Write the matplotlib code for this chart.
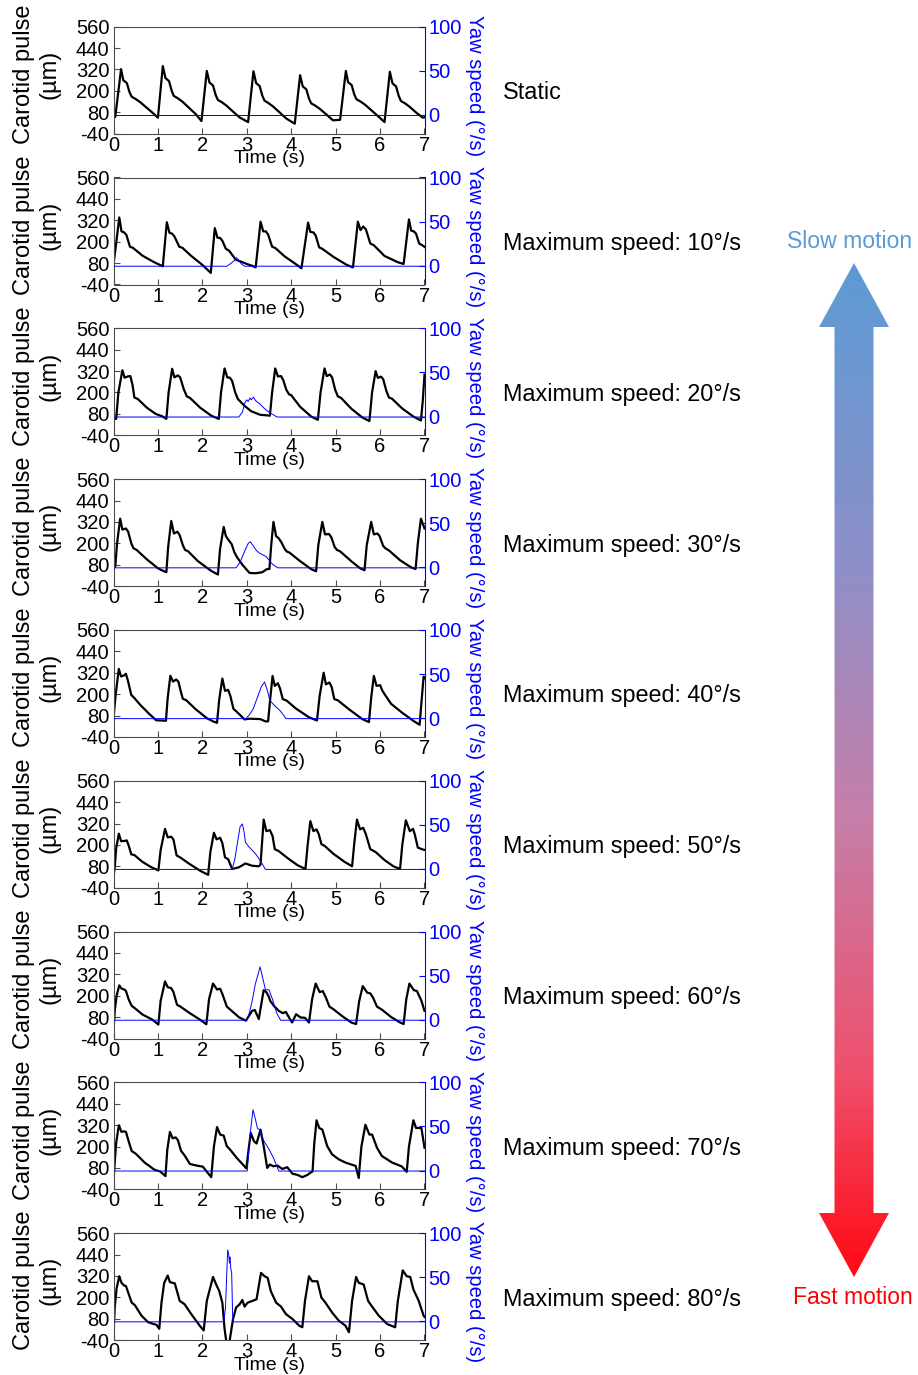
import matplotlib.pyplot as plt
import numpy as np
from matplotlib.colors import LinearSegmentedColormap
from matplotlib.patches import Polygon

plt.rcParams['font.family'] = ['Liberation Sans', 'DejaVu Sans']
plt.rcParams['axes.unicode_minus'] = False

W, H = 918, 1375

panel_labels = ["Static", "Maximum speed: 10°/s", "Maximum speed: 20°/s",
                "Maximum speed: 30°/s", "Maximum speed: 40°/s", "Maximum speed: 50°/s",
                "Maximum speed: 60°/s", "Maximum speed: 70°/s", "Maximum speed: 80°/s"]
time_ticks = [0, 1, 2, 3, 4, 5, 6, 7]
pulse_ticks = [-40, 80, 200, 320, 440, 560]
yaw_ticks = [0, 50, 100]

# carotid pulse (um), (time s, value)
pulse_static = [
    (0.0, 56), (0.04, 54), (0.17, 322), (0.22, 260), (0.30, 244), (0.36, 193), (0.41, 167), (0.49, 156), (0.60, 137), (0.75, 105), (0.90, 73),
    (1.0, 50), (1.11, 339), (1.17, 272), (1.25, 255), (1.31, 200), (1.36, 171), (1.44, 160), (1.55, 140), (1.70, 105), (1.85, 70),
    (1.98, 31), (2.10, 312), (2.16, 247), (2.24, 230), (2.30, 177), (2.35, 149), (2.43, 138), (2.54, 118), (2.69, 84), (2.84, 51),
    (3.03, 25), (3.15, 310), (3.21, 244), (3.29, 227), (3.35, 173), (3.40, 145), (3.48, 133), (3.59, 113), (3.74, 79), (3.89, 45),
    (4.08, 16), (4.20, 288), (4.26, 225), (4.34, 209), (4.40, 157), (4.45, 130), (4.53, 119), (4.64, 100), (4.79, 68), (4.94, 35),
    (5.10, 38), (5.23, 312), (5.28, 249), (5.36, 233), (5.42, 180), (5.47, 153), (5.55, 142), (5.66, 123), (5.81, 90), (5.96, 57),
    (6.10, 25), (6.22, 307), (6.28, 242), (6.36, 225), (6.42, 172), (6.47, 143), (6.55, 132), (6.66, 112), (6.81, 79), (6.96, 50), (7.0, 52)]
pulse_10 = [
    (0.0, 75), (0.04, 150), (0.13, 336), (0.18, 258), (0.24, 252), (0.29, 238), (0.37, 172), (0.44, 165), (0.65, 122), (0.90, 87),
    (1.11, 62), (1.20, 309), (1.26, 250), (1.32, 245), (1.37, 230), (1.48, 172), (1.55, 166), (1.75, 120), (2.00, 70),
    (2.19, 25), (2.28, 276), (2.34, 222), (2.40, 221), (2.45, 205), (2.53, 160), (2.60, 150), (2.75, 100), (2.80, 95), (3.00, 75), (3.12, 65),
    (3.20, 56), (3.31, 312), (3.37, 258), (3.43, 258), (3.48, 240), (3.57, 172), (3.64, 165), (3.85, 118), (4.10, 75),
    (4.23, 51), (4.38, 307), (4.43, 255), (4.50, 252), (4.55, 235), (4.63, 168), (4.70, 160), (4.95, 115), (5.25, 70),
    (5.39, 56), (5.50, 312), (5.56, 265), (5.62, 285), (5.68, 270), (5.78, 190), (5.86, 180), (6.10, 120), (6.40, 85),
    (6.53, 75), (6.65, 325), (6.70, 262), (6.76, 258), (6.81, 245), (6.88, 190), (6.95, 180), (7.0, 171)]
pulse_20 = [
    (0.0, 55), (0.06, 52), (0.11, 200), (0.20, 325), (0.25, 283), (0.32, 290), (0.38, 292), (0.43, 240), (0.47, 172), (0.55, 163), (0.75, 115), (0.95, 80), (1.10, 66),
    (1.19, 52), (1.24, 200), (1.32, 333), (1.37, 285), (1.45, 296), (1.50, 285), (1.58, 220), (1.65, 178), (1.72, 170), (1.95, 115), (2.20, 70),
    (2.37, 52), (2.42, 200), (2.50, 335), (2.56, 285), (2.62, 283), (2.67, 265), (2.74, 200), (2.80, 163), (2.95, 125), (3.10, 95), (3.30, 75), (3.45, 72),
    (3.52, 70), (3.57, 200), (3.64, 335), (3.70, 290), (3.77, 292), (3.82, 270), (3.89, 215), (3.95, 190), (4.00, 185), (4.20, 120), (4.45, 65),
    (4.60, 47), (4.66, 200), (4.75, 335), (4.80, 292), (4.87, 301), (4.92, 285), (4.99, 215), (5.05, 178), (5.12, 170), (5.35, 110), (5.60, 60),
    (5.76, 40), (5.82, 200), (5.90, 320), (5.95, 282), (6.02, 289), (6.07, 275), (6.14, 210), (6.20, 172), (6.27, 165), (6.50, 110), (6.75, 65),
    (6.92, 43), (6.96, 150), (7.0, 300)]
pulse_30 = [
    (0.0, 60), (0.04, 71), (0.08, 200), (0.15, 338), (0.20, 277), (0.28, 283), (0.33, 265), (0.40, 200), (0.45, 172), (0.52, 163), (0.75, 110), (1.00, 60), (1.12, 45),
    (1.19, 38), (1.23, 180), (1.30, 325), (1.36, 255), (1.44, 265), (1.49, 245), (1.56, 190), (1.61, 163), (1.68, 155), (1.90, 100), (2.20, 45),
    (2.35, 25), (2.40, 170), (2.48, 292), (2.53, 240), (2.60, 215), (2.66, 195), (2.72, 150), (2.78, 122), (2.90, 80), (3.06, 34), (3.20, 32), (3.35, 38), (3.45, 55),
    (3.51, 56), (3.55, 190), (3.60, 320), (3.66, 240), (3.72, 228), (3.78, 205), (3.85, 170), (3.90, 154), (3.96, 148), (4.20, 100), (4.45, 55),
    (4.56, 43), (4.61, 190), (4.70, 320), (4.76, 250), (4.85, 252), (4.90, 235), (4.98, 178), (5.03, 163), (5.10, 155), (5.35, 100), (5.55, 60),
    (5.65, 49), (5.70, 190), (5.80, 320), (5.86, 250), (5.94, 255), (5.99, 240), (6.07, 185), (6.12, 172), (6.20, 160), (6.45, 105), (6.70, 65),
    (6.80, 56), (6.85, 200), (6.92, 338), (7.0, 283)]
pulse_40 = [
    (0.0, 65), (0.05, 200), (0.12, 341), (0.17, 299), (0.24, 305), (0.28, 314), (0.33, 270), (0.40, 195), (0.47, 178), (0.60, 140), (0.80, 90), (0.96, 53), (1.10, 52),
    (1.18, 50), (1.22, 180), (1.28, 303), (1.34, 270), (1.41, 282), (1.46, 270), (1.52, 210), (1.56, 174), (1.64, 165), (1.85, 115), (2.10, 65), (2.26, 45),
    (2.33, 39), (2.38, 170), (2.45, 287), (2.51, 218), (2.58, 224), (2.63, 190), (2.70, 117), (2.77, 102), (2.95, 58), (3.05, 62), (3.30, 60), (3.42, 47),
    (3.48, 47), (3.53, 180), (3.58, 302), (3.63, 246), (3.70, 261), (3.75, 230), (3.81, 172), (3.90, 163), (4.10, 120), (4.40, 70),
    (4.58, 52), (4.64, 190), (4.73, 320), (4.78, 255), (4.86, 265), (4.91, 240), (4.97, 172), (5.05, 165), (5.30, 115), (5.60, 60),
    (5.75, 43), (5.80, 180), (5.86, 302), (5.92, 246), (6.00, 250), (6.05, 220), (6.10, 200), (6.25, 145), (6.50, 95), (6.75, 50),
    (6.89, 28), (6.93, 150), (6.98, 298), (7.0, 290)]
pulse_50 = [
    (0.0, 21), (0.03, 80), (0.06, 180), (0.12, 263), (0.17, 221), (0.24, 222), (0.30, 225), (0.35, 190), (0.40, 147), (0.47, 143), (0.65, 105), (0.85, 75),
    (1.01, 57), (1.06, 170), (1.16, 290), (1.22, 242), (1.30, 246), (1.35, 230), (1.42, 141), (1.50, 130), (1.70, 95), (1.95, 55),
    (2.13, 32), (2.18, 160), (2.26, 268), (2.32, 231), (2.40, 240), (2.45, 210), (2.51, 130), (2.58, 120), (2.67, 65), (2.82, 74), (2.97, 96), (3.12, 83), (3.27, 80), (3.31, 90),
    (3.34, 200), (3.38, 342), (3.44, 277), (3.52, 283), (3.58, 250), (3.63, 176), (3.72, 165), (3.95, 120), (4.15, 85),
    (4.32, 65), (4.37, 200), (4.43, 333), (4.50, 277), (4.57, 287), (4.62, 260), (4.68, 204), (4.75, 195), (4.95, 150), (5.20, 105),
    (5.37, 80), (5.42, 210), (5.48, 342), (5.55, 287), (5.62, 296), (5.68, 260), (5.78, 176), (5.90, 160), (6.10, 115), (6.30, 80),
    (6.45, 65), (6.50, 200), (6.58, 338), (6.67, 277), (6.74, 290), (6.78, 260), (6.85, 185), (6.95, 175), (7.0, 172)]
pulse_60 = [
    (0.0, 7), (0.03, 120), (0.07, 200), (0.13, 258), (0.18, 240), (0.24, 235), (0.28, 227), (0.34, 180), (0.41, 143), (0.47, 132), (0.65, 95), (0.88, 65),
    (1.01, 38), (1.06, 170), (1.16, 280), (1.22, 248), (1.30, 242), (1.35, 220), (1.43, 149), (1.50, 140), (1.70, 105), (1.95, 65),
    (2.09, 40), (2.15, 180), (2.24, 268), (2.33, 235), (2.40, 239), (2.45, 210), (2.55, 139), (2.66, 115), (2.83, 78), (2.98, 60), (3.12, 115), (3.18, 120), (3.27, 69),
    (3.38, 231), (3.44, 220), (3.49, 198), (3.53, 170), (3.61, 143), (3.72, 115), (3.81, 102), (3.88, 109), (3.95, 78), (4.02, 50), (4.11, 96), (4.21, 78), (4.31, 76),
    (4.40, 50), (4.47, 180), (4.55, 268), (4.64, 220), (4.71, 226), (4.78, 190), (4.86, 139), (4.95, 124), (5.15, 85), (5.35, 50),
    (5.46, 41), (5.53, 170), (5.61, 254), (5.71, 217), (5.78, 213), (5.84, 190), (5.93, 139), (6.05, 120), (6.25, 80), (6.45, 50),
    (6.53, 41), (6.59, 180), (6.66, 268), (6.76, 231), (6.83, 226), (6.93, 172), (7.0, 115)]
pulse_70 = [
    (0.0, 7), (0.03, 120), (0.06, 220), (0.12, 319), (0.18, 282), (0.24, 285), (0.28, 282), (0.34, 230), (0.41, 174), (0.50, 160), (0.70, 110), (0.92, 70), (1.05, 60),
    (1.17, 34), (1.21, 180), (1.27, 282), (1.33, 246), (1.40, 251), (1.45, 235), (1.52, 176), (1.60, 150), (1.72, 102), (1.87, 93), (2.01, 87), (2.16, 40),
    (2.20, 28), (2.26, 200), (2.33, 309), (2.40, 267), (2.48, 261), (2.55, 202), (2.62, 184), (2.77, 137), (2.94, 91), (2.99, 77),
    (3.05, 202), (3.09, 276), (3.16, 230), (3.22, 217), (3.31, 295), (3.38, 202), (3.46, 80), (3.52, 99), (3.60, 89), (3.69, 93), (3.80, 74), (3.91, 84), (4.03, 47), (4.14, 41), (4.25, 28), (4.36, 40), (4.45, 56),
    (4.48, 60), (4.52, 220), (4.57, 347), (4.63, 304), (4.70, 295), (4.81, 202), (4.92, 156), (5.07, 128), (5.22, 110), (5.45, 91),
    (5.52, 23), (5.58, 200), (5.67, 322), (5.76, 267), (5.82, 267), (5.93, 193), (6.04, 147), (6.27, 110), (6.49, 88),
    (6.60, 58), (6.65, 200), (6.75, 347), (6.81, 304), (6.93, 304), (7.0, 193)]
pulse_80 = [
    (0.0, 4), (0.03, 150), (0.07, 250), (0.13, 318), (0.18, 281), (0.24, 266), (0.28, 263), (0.41, 170), (0.48, 156), (0.63, 97), (0.78, 60), (0.97, 45),
    (1.03, 23), (1.08, 170), (1.14, 280), (1.22, 322), (1.27, 285), (1.38, 278), (1.49, 180), (1.60, 161), (1.75, 106), (1.94, 41),
    (2.03, 14), (2.10, 180), (2.24, 314), (2.31, 272), (2.38, 235), (2.45, 170), (2.50, 23), (2.54, -50), (2.61, -50), (2.65, 14), (2.69, 78), (2.76, 143), (2.84, 161),
    (2.90, 185), (2.95, 148), (3.02, 170), (3.13, 180), (3.22, 189), (3.32, 337), (3.40, 318), (3.47, 309), (3.54, 235), (3.66, 170), (3.77, 148), (3.88, 106), (4.03, 78), (4.18, 41),
    (4.25, 32), (4.31, 180), (4.40, 318), (4.47, 290), (4.59, 290), (4.68, 198), (4.77, 170), (4.92, 115), (5.07, 69), (5.22, 41),
    (5.30, 4), (5.37, 180), (5.46, 314), (5.52, 281), (5.63, 272), (5.73, 180), (5.82, 148), (5.97, 97), (6.16, 50),
    (6.34, 32), (6.40, 180), (6.51, 351), (6.60, 318), (6.68, 314), (6.75, 244), (6.87, 180), (6.98, 97), (7.0, 90)]

# yaw speed (deg/s)
yaw_static = [(0.0, -0.5), (7.0, -0.5)]
yaw_10 = [(0.0, -0.5), (2.55, -0.5), (2.65, 3), (2.72, 6), (2.77, 9), (2.82, 6), (2.88, 2), (2.95, -0.5), (7.0, -0.5)]
yaw_20 = [(0.0, -0.5), (2.82, -0.5), (2.90, 5), (2.96, 16), (3.0, 19), (3.03, 17), (3.07, 21), (3.10, 19), (3.15, 22),
          (3.20, 18), (3.30, 14), (3.40, 9), (3.50, 5), (3.60, 2), (3.68, -0.5), (7.0, -0.5)]
yaw_30 = [(0.0, -0.5), (2.76, -0.5), (2.85, 6), (2.95, 18), (3.03, 27), (3.08, 29), (3.15, 24), (3.22, 19), (3.29, 16),
          (3.37, 14), (3.44, 12), (3.52, 7), (3.59, 3), (3.70, -0.5), (7.0, -0.5)]
yaw_40 = [(0.0, -0.5), (2.98, -0.5), (3.06, 4), (3.14, 10), (3.25, 25), (3.33, 36), (3.40, 41), (3.46, 32), (3.52, 20),
          (3.63, 14), (3.74, 9), (3.82, 4), (3.88, -0.5), (7.0, -0.5)]
yaw_50 = [(0.0, -0.5), (2.67, -0.5), (2.73, 11), (2.80, 33), (2.85, 48), (2.90, 51), (2.94, 42), (2.97, 30), (3.05, 25),
          (3.20, 17), (3.31, 9), (3.42, -0.5), (7.0, -0.5)]
yaw_60 = [(0.0, -0.5), (3.0, -0.5), (3.06, 8), (3.12, 21), (3.19, 40), (3.30, 60), (3.36, 47), (3.42, 34), (3.50, 34),
          (3.58, 23), (3.67, 8), (3.76, -0.5), (7.0, -0.5)]
yaw_70 = [(0.0, -0.5), (3.01, -0.5), (3.07, 39), (3.14, 69), (3.19, 59), (3.24, 48), (3.29, 46), (3.38, 34), (3.49, 25),
          (3.60, 14.5), (3.72, -0.5), (7.0, -0.5)]
yaw_80 = [(0.0, -0.5), (2.48, -0.5), (2.52, 15), (2.55, 55), (2.57, 81), (2.59, 77), (2.61, 66), (2.62, 73), (2.64, 60),
          (2.66, 55), (2.68, 10), (2.69, -0.5), (7.0, -0.5)]

pulses = [pulse_static, pulse_10, pulse_20, pulse_30, pulse_40, pulse_50, pulse_60, pulse_70, pulse_80]
yaws = [yaw_static, yaw_10, yaw_20, yaw_30, yaw_40, yaw_50, yaw_60, yaw_70, yaw_80]

BLUE = "#0000ff"
SPINE = "0.3"


def draw_panel(fig, k, label, pulse, yaw):
    top = 26.7 + 150.8 * k
    ax = fig.add_axes([113.5 / W, 1 - (top + 107) / H, 311 / W, 107 / H])
    t, v = zip(*pulse)
    ax.plot(t, v, color="black", lw=1.6, solid_joinstyle="round")
    ax.set_xlim(0, 7); ax.set_ylim(-40, 560)
    ax.set_xticks(time_ticks); ax.set_yticks(pulse_ticks)
    ax.tick_params(direction="in", length=4, width=0.8, labelsize=14.5, pad=3, color=SPINE)
    ax.tick_params(axis="x", pad=1.5)
    for side in ("left", "top", "bottom"):
        ax.spines[side].set_color(SPINE); ax.spines[side].set_linewidth(0.8)
    ax.spines["right"].set_visible(False)
    ax.set_xlabel("Time (s)", fontsize=14)
    ax.xaxis.set_label_coords(0.5, -0.155)
    ax.set_ylabel("Carotid pulse\n(µm)", fontsize=17, linespacing=1.2)
    ax.yaxis.set_label_coords(-0.172, 0.555)

    ax2 = ax.twinx()
    yt, yv = zip(*yaw)
    ax2.plot(yt, yv, color=BLUE, lw=0.7)
    ax2.set_ylim(-21.2, 100); ax2.set_yticks(yaw_ticks)
    ax2.tick_params(direction="in", length=4, width=0.8, labelsize=14.5, pad=3, colors=BLUE)
    for side in ("left", "top", "bottom"):
        ax2.spines[side].set_visible(False)
    ax2.spines["right"].set_color(BLUE); ax2.spines["right"].set_linewidth(0.8)
    ax2.set_ylabel("Yaw speed (°/s)", fontsize=14.5, color=BLUE, rotation=270, va="center", ha="center")
    ax2.yaxis.set_label_coords(1.16, 0.45)

    fig.text(503 / W, 1 - (top + 66) / H, label, fontsize=16.8, va="center", ha="left")


def draw_arrow(fig):
    ov = fig.add_axes([0, 0, 1, 1], zorder=-1)
    ov.set_xlim(0, W); ov.set_ylim(H, 0); ov.axis("off")
    cx, sh, hh = 854, 19.5, 35
    y_tip1, y_base1, y_base2, y_tip2 = 263, 327, 1213, 1277
    pts = [(cx, y_tip1), (cx + hh, y_base1), (cx + sh, y_base1), (cx + sh, y_base2), (cx + hh, y_base2),
           (cx, y_tip2), (cx - hh, y_base2), (cx - sh, y_base2), (cx - sh, y_base1), (cx - hh, y_base1)]
    poly = Polygon(pts, closed=True, facecolor="none", edgecolor="none")
    ov.add_patch(poly)
    cmap = LinearSegmentedColormap.from_list("motion", [
        (0.0, "#5b9bd5"), (0.3, "#8f8fc8"), (0.55, "#c67ea8"), (0.8, "#ef4f6c"), (1.0, "#ff0a14")])
    grad = np.linspace(0, 1, 256).reshape(-1, 1)
    im = ov.imshow(grad, cmap=cmap, extent=(cx - hh, cx + hh, y_tip2, y_tip1), origin="upper", aspect="auto")
    im.set_clip_path(poly)
    ov.set_xlim(0, W); ov.set_ylim(H, 0)
    fig.text(850 / W, 1 - 242 / H, "Slow motion", fontsize=16.6, color="#5b9bd5", ha="center", va="center")
    fig.text(853 / W, 1 - 1298 / H, "Fast motion", fontsize=16.5, color="#ff0000", ha="center", va="center")


def main():
    fig = plt.figure(figsize=(W / 100, H / 100), dpi=100)
    draw_arrow(fig)
    for k in range(len(panel_labels)):
        draw_panel(fig, k, panel_labels[k], pulses[k], yaws[k])
    fig.savefig("out.png", dpi=100)


if __name__ == "__main__":
    main()
